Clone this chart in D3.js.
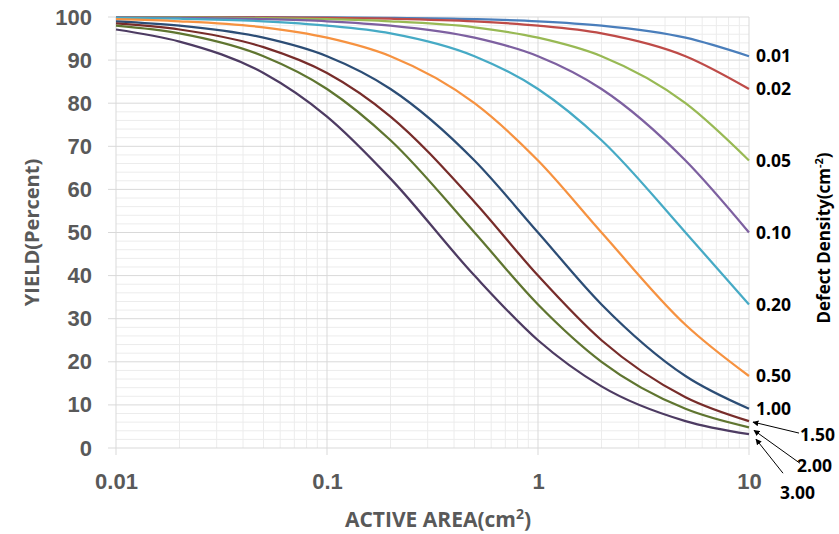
<!DOCTYPE html>
<html>
<head>
<meta charset="utf-8">
<script src="https://cdn.jsdelivr.net/npm/d3@7"></script>
<style>
  html, body { margin: 0; padding: 0; background: #fff; }
  svg { display: block; font-family: "Open Sans", "Noto Sans", sans-serif; }
</style>
</head>
<body>
<svg id="chart" width="839" height="534"></svg>
<script>
const areas = [0.01, 0.02, 0.05, 0.1, 0.2, 0.5, 1, 2, 5, 10];
const densities = ["0.01", "0.02", "0.05", "0.10", "0.20", "0.50", "1.00", "1.50", "2.00", "3.00"];
// yield (%) per defect density, same order as areas
const yield001 = [99.99, 99.98, 99.95, 99.9, 99.8, 99.5, 99.0, 98.0, 95.2, 90.9];
const yield002 = [99.98, 99.96, 99.9, 99.8, 99.6, 99.0, 98.0, 96.2, 90.9, 83.3];
const yield005 = [99.95, 99.9, 99.75, 99.5, 99.0, 97.6, 95.2, 90.9, 80.0, 66.7];
const yield010 = [99.9, 99.8, 99.5, 99.0, 98.0, 95.2, 90.9, 83.3, 66.7, 50.0];
const yield020 = [99.8, 99.6, 99.0, 98.0, 96.2, 90.9, 83.3, 71.4, 50.0, 33.3];
const yield050 = [99.5, 99.0, 97.6, 95.2, 90.9, 80.0, 66.7, 50.0, 28.6, 16.7];
const yield100 = [99.0, 98.0, 95.2, 90.9, 83.3, 66.7, 50.0, 33.3, 16.7, 9.1];
const yield150 = [98.5, 97.1, 93.0, 87.0, 76.9, 57.1, 40.0, 25.0, 11.8, 6.25];
const yield200 = [98.0, 96.2, 90.9, 83.3, 71.4, 50.0, 33.3, 20.0, 9.1, 4.8];
const yield300 = [97.1, 94.3, 87.0, 76.9, 62.5, 40.0, 25.0, 14.3, 6.25, 3.2];
const yTicks = [0, 10, 20, 30, 40, 50, 60, 70, 80, 90, 100];
const xTicks = [0.01, 0.1, 1, 10];

const series = [yield001, yield002, yield005, yield010, yield020, yield050, yield100, yield150, yield200, yield300];
const colors = ["#4a7ebb", "#be4b48", "#98b954", "#7d60a0", "#46aac5", "#f69240",
                "#2c4d75", "#772c2a", "#5f7530", "#4d3b62"];

const dims = {
  svgWidth: 839, svgHeight: 534,
  margin: {top: 17, left: 116, bottom: 86, right: 90}
};
dims.width = dims.svgWidth - dims.margin.left - dims.margin.right;
dims.height = dims.svgHeight - dims.margin.top - dims.margin.bottom;

const svg = d3.select("#chart");
const g = svg.append("g").attr("transform", `translate(${dims.margin.left},${dims.margin.top})`);

const x = d3.scaleLog().domain([0.01, 10]).range([0, dims.width]);
const y = d3.scaleLinear().domain([0, 100]).range([dims.height, 0]);

// minor grid
const minorX = [];
[0.01, 0.1, 1].forEach(dec => { for (let k = 2; k <= 9; k++) minorX.push(dec * k); });
const minorY = d3.range(0, 101, 2).filter(v => v % 10 !== 0);

g.append("g").selectAll("line").data(minorX).join("line")
  .attr("x1", d => x(d)).attr("x2", d => x(d))
  .attr("y1", 0).attr("y2", dims.height)
  .attr("stroke", "#ececec").attr("stroke-width", 1);
g.append("g").selectAll("line").data(minorY).join("line")
  .attr("x1", 0).attr("x2", dims.width)
  .attr("y1", d => y(d)).attr("y2", d => y(d))
  .attr("stroke", "#ececec").attr("stroke-width", 1);

// major grid
g.append("g").selectAll("line").data(yTicks).join("line")
  .attr("x1", -8).attr("x2", dims.width)
  .attr("y1", d => y(d)).attr("y2", d => y(d))
  .attr("stroke", "#d9d9d9").attr("stroke-width", 1);
g.append("g").selectAll("line").data(xTicks).join("line")
  .attr("x1", d => x(d)).attr("x2", d => x(d))
  .attr("y1", 0).attr("y2", dims.height + 7)
  .attr("stroke", "#d9d9d9").attr("stroke-width", 1);

// axes (labels only, grey bold)
const yAxis = g.append("g").call(d3.axisLeft(y).tickValues(yTicks).tickSize(0).tickPadding(24));
const xAxis = g.append("g").attr("transform", `translate(0,${dims.height})`)
  .call(d3.axisBottom(x).tickValues(xTicks).tickFormat(d3.format("~g")).tickSize(0).tickPadding(25));
[yAxis, xAxis].forEach(a => {
  a.select(".domain").remove();
  a.selectAll("text").attr("fill", "#595959").attr("font-size", 22).attr("font-weight", "bold");
});

// curves
const line = d3.line()
  .x((d, i) => x(areas[i]))
  .y(d => y(d))
  .curve(d3.curveMonotoneX);

g.append("g").selectAll("path").data(series).join("path")
  .attr("d", d => line(d))
  .attr("fill", "none")
  .attr("stroke", (d, i) => colors[i])
  .attr("stroke-width", 2.25);

// curve-end labels; the three lowest get an arrow
const labelPos = [null, null, null, null, null, null, null,
  {dx: 51, dy: 14, sx: 50, sy: 12, tx: 4, ty: 1},
  {dx: 48, dy: 39, sx: 51, sy: 36, tx: 5, ty: 3},
  {dx: 31, dy: 59, sx: 34, sy: 39, tx: 7, ty: 5}];
const endX = x(areas[areas.length - 1]);

const defs = svg.append("defs");
defs.append("marker").attr("id", "arrow")
  .attr("viewBox", "0 0 10 10").attr("refX", 9).attr("refY", 5)
  .attr("markerWidth", 6).attr("markerHeight", 6).attr("orient", "auto-start-reverse")
  .append("path").attr("d", "M0,0 L10,5 L0,10 z").attr("fill", "#000");

const labels = g.append("g");
series.forEach((s, i) => {
  const yEnd = y(s[s.length - 1]);
  const p = labelPos[i];
  const t = labels.append("text")
    .attr("dy", "0.35em")
    .attr("font-size", 17.5).attr("font-weight", "bold").attr("fill", "#000")
    .text(densities[i]);
  if (!p) {
    t.attr("x", endX + 7).attr("y", yEnd);
  } else {
    t.attr("x", endX + p.dx).attr("y", yEnd + p.dy);
    labels.append("line")
      .attr("x1", endX + p.sx).attr("y1", yEnd + p.sy)
      .attr("x2", endX + p.tx).attr("y2", yEnd + p.ty)
      .attr("stroke", "#000").attr("stroke-width", 1)
      .attr("marker-end", "url(#arrow)");
  }
});

// titles
svg.append("text")
  .attr("transform", `translate(32,${dims.margin.top + dims.height / 2}) rotate(-90)`)
  .attr("text-anchor", "middle").attr("dy", "0.35em")
  .attr("font-size", 20).attr("font-weight", "bold").attr("fill", "#595959")
  .text("YIELD(Percent)");

const xt = svg.append("text")
  .attr("x", 438).attr("y", 527)
  .attr("text-anchor", "middle")
  .attr("font-size", 21).attr("font-weight", "bold").attr("fill", "#595959");
xt.append("tspan").text("ACTIVE AREA(cm");
xt.append("tspan").attr("font-size", 14).attr("dy", -8).text("2");
xt.append("tspan").attr("dy", 8).text(")");

const rt = svg.append("text")
  .attr("transform", `translate(824,238) rotate(-90)`)
  .attr("text-anchor", "middle").attr("dy", "0.35em")
  .attr("font-size", 17).attr("font-weight", "bold").attr("fill", "#000");
rt.append("tspan").text("Defect Density(cm");
rt.append("tspan").attr("font-size", 11).attr("dy", -7).text("-2");
rt.append("tspan").attr("dy", 7).text(")");
</script>
</body>
</html>
